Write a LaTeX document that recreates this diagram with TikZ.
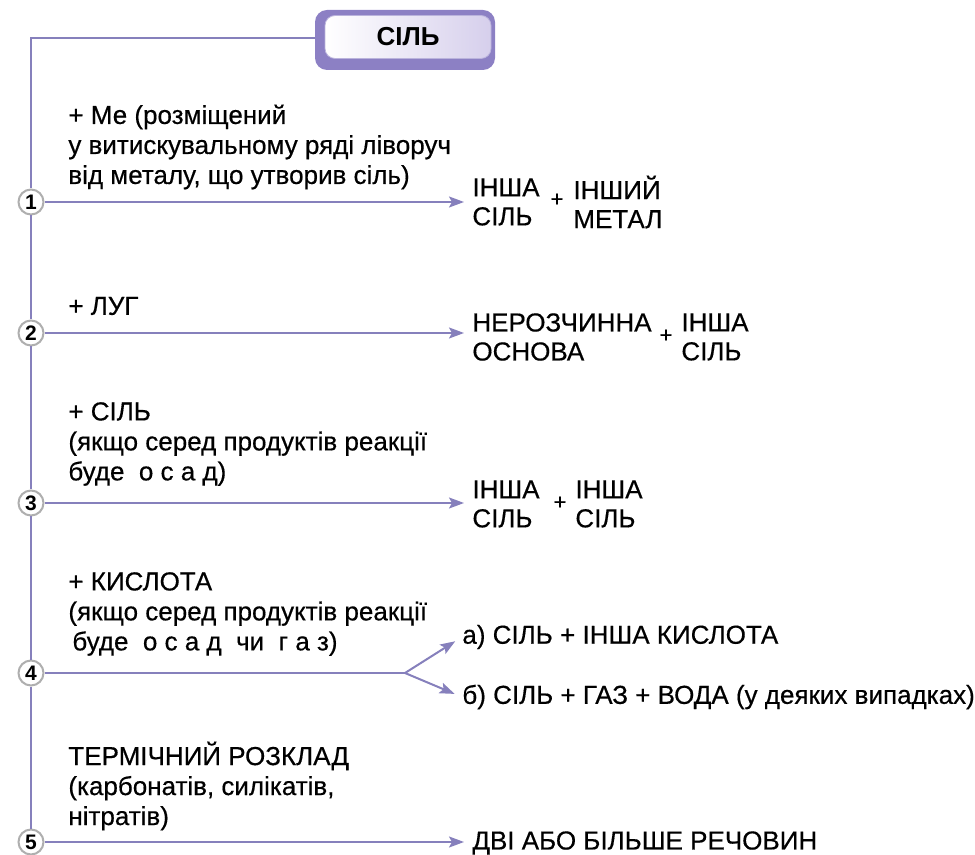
\documentclass[tikz,border=0pt]{standalone}
\usepackage{fontspec}
\setmainfont{Liberation Sans}
\newfontfamily\medfont{Liberation Sans}[FakeBold=0.45]
\usetikzlibrary{arrows.meta,positioning,calc}
\definecolor{linepurple}{RGB}{134,128,188}
\definecolor{boxpurple}{RGB}{140,128,196}
\definecolor{boxlight}{RGB}{214,207,236}
\definecolor{ringgray}{RGB}{175,175,175}

\begin{document}
\begin{tikzpicture}[x=0.5pt, y=-0.5pt,
    saltbox/.style={draw=none, fill=boxpurple, rounded corners=6pt, minimum width=90pt, minimum height=30pt},
    saltin/.style={draw=boxpurple!60, left color=white, right color=boxlight, rounded corners=5pt, minimum width=83pt, minimum height=21.5pt, inner sep=0pt, font=\fontsize{13}{13}\selectfont\bfseries},
    num/.style={circle, draw=ringgray, fill=white, line width=1pt, minimum size=12.5pt, inner sep=0pt, font=\fontsize{10.5}{10.5}\selectfont\bfseries},
    cond/.style={anchor=west, align=left, inner sep=0pt, font=\fontsize{13}{15}\selectfont\medfont},
    prod/.style={anchor=west, align=left, inner sep=0pt, font=\fontsize{13}{14.5}\selectfont\medfont},
    plus/.style={inner sep=0pt, font=\fontsize{11}{11}\selectfont\medfont},
    link/.style={draw=linepurple, line width=1pt},
    arr/.style={link, -{Stealth[length=7.5pt, width=5.5pt, inset=1.5pt]}, shorten >=4pt}
]
\useasboundingbox (0,0) rectangle (975,855);

% назва
\node[saltbox] (salt) at (405,40) {};
\node[saltin] (saltname) at (408,37) {СІЛЬ};
\coordinate (corner) at (31,38);

% номери
\node[num] (c1) at (31,202) {1};
\node[num] (c2) at (31,333) {2};
\node[num] (c3) at (31,503) {3};
\node[num] (c4) at (31,673) {4};
\node[num] (c5) at (31,842) {5};

% умови
\node[cond] (t1) at (68,147) {+ Ме (розміщений\\у витискувальному ряді ліворуч\\від металу, що утворив сіль)};
\node[cond] (t2) at (68,306) {+ ЛУГ};
\node[cond] (t3) at (68,444) {+ СІЛЬ\\(якщо серед продуктів реакції\\буде~ о с а д)};
\node[cond] (t4) at (68,614) {+ КИСЛОТА\\(якщо серед продуктів реакції\\\hspace{2pt}буде~ о с а д~ чи~ г а з)};
\node[cond] (t5) at (68,786) {ТЕРМІЧНИЙ РОЗКЛАД\\(карбонатів, силікатів,\\нітратів)};

% продукти
\node[prod] (p1a) at (472,202) {ІНША\\СІЛЬ};
\node[plus] (p1p) at (557,200) {+};
\node[prod] (p1b) at (573,202) {ІНШИЙ\\МЕТАЛ};

\node[prod] (p2a) at (472,337) {НЕРОЗЧИННА\\ОСНОВА};
\node[plus] (p2p) at (666,336) {+};
\node[prod] (p2b) at (681,337) {ІНША\\СІЛЬ};

\node[prod] (p3a) at (472,504) {ІНША\\СІЛЬ};
\node[plus] (p3p) at (560,503) {+};
\node[prod] (p3b) at (575,504) {ІНША\\СІЛЬ};

\node[prod] (p4a) at (462,637) {а) СІЛЬ + ІНША КИСЛОТА};
\node[prod] (p4b) at (462,697) {б) СІЛЬ + ГАЗ + ВОДА (у деяких випадках)};

\node[prod] (p5) at (472,843) {ДВІ АБО БІЛЬШЕ РЕЧОВИН};

% лінії
\draw[link] (salt.west |- corner) -- (corner) -- (c1) -- (c2) -- (c3) -- (c4) -- (c5);
\draw[arr] (c1) -- (c1 -| p1a.west);
\draw[arr] (c2) -- (c2 -| p2a.west);
\draw[arr] (c3) -- (c3 -| p3a.west);
\coordinate (fork) at (405,673);
\draw[link] (c4) -- (fork);
\draw[arr] (fork) -- (p4a.west);
\draw[arr] (fork) -- (p4b.west);
\draw[arr] (c5) -- (c5 -| p5.west);

\end{tikzpicture}
\end{document}
